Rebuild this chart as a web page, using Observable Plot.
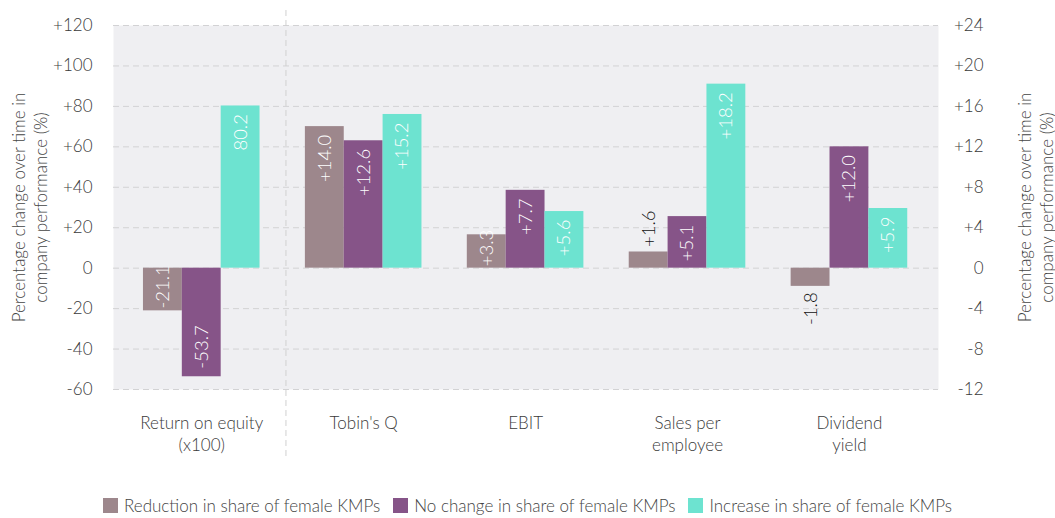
<!DOCTYPE html>
<html>
<head>
<meta charset="utf-8">
<script src="https://cdn.jsdelivr.net/npm/d3@7"></script>
<script src="https://cdn.jsdelivr.net/npm/@observablehq/plot@0.6"></script>
<style>
  body { margin: 0; background: #fff; font-family: Lato, "Noto Sans", sans-serif; }
  #legend { display: flex; justify-content: center; align-items: center; gap: 13px; margin-top: 25px; font-size: 17px; color: #444; font-weight: 300; }
  #legend .item { display: flex; align-items: center; gap: 6px; }
  #legend .sw { width: 15px; height: 15px; display: inline-block; }
</style>
</head>
<body>
<div id="chart"></div>
<div id="legend"></div>
<script>
// ---- data ----
const categories = ["Return on equity\n(x100)", "Tobin's Q", "EBIT", "Sales per\nemployee", "Dividend\nyield"];
const axisFactor = [1, 5, 5, 5, 5]; // ROE on left axis, others on right axis (1:5)
const series = ["Reduction in share of female KMPs", "No change in share of female KMPs", "Increase in share of female KMPs"];
const colors = ["#9d878c", "#865488", "#6de3d0"];
const reduction = [-21.1, 14.0, 3.3, 1.6, -1.8];
const noChange = [-53.7, 12.6, 7.7, 5.1, 12.0];
const increase = [80.2, 15.2, 5.6, 18.2, 5.9];
const reductionLabels = ["-21.1", "+14.0", "+3.3", "+1.6", "-1.8"];
const noChangeLabels = ["-53.7", "+12.6", "+7.7", "+5.1", "+12.0"];
const increaseLabels = ["80.2", "+15.2", "+5.6", "+18.2", "+5.9"];
const leftTicks = [-60, -40, -20, 0, 20, 40, 60, 80, 100, 120];
const leftAxisLabel = "Percentage change over time in\ncompany performance (%)";
const rightAxisLabel = "Percentage change over time in\ncompany performance (%)";
const separatorAt = [0.52];

// ---- table ----
const barW = 0.24;
const valueSets = [reduction, noChange, increase];
const labelSets = [reductionLabels, noChangeLabels, increaseLabels];
const rows = [];
categories.forEach((c, i) => {
  series.forEach((s, j) => {
    const v = valueSets[j][i] * axisFactor[i];
    rows.push({
      i, j, series: s, v,
      x1: i + (j - 1.5) * barW,
      x2: i + (j - 0.5) * barW,
      xc: i + (j - 1) * barW,
      label: labelSets[j][i]
    });
  });
});
const inside = rows.filter(d => Math.abs(d.v) >= 12);
const insidePos = inside.filter(d => d.v > 0).map(d => ({...d, ly: Math.max(d.v - 4, 19)}));
const insideNeg = inside.filter(d => d.v < 0).map(d => ({...d, ly: -Math.max(-d.v - 4, 20)}));
const outside = rows.filter(d => Math.abs(d.v) < 12);
const outsidePos = outside.filter(d => d.v > 0);
const outsideNeg = outside.filter(d => d.v < 0);

const fmt = d => d > 0 ? "+" + d : String(d);
const textColor = "#3a3a3a";

const chart = Plot.plot({
  width: 1055,
  height: 470,
  marginTop: 25,
  marginBottom: 81,
  marginLeft: 113,
  marginRight: 117,
  style: { fontFamily: "Lato, 'Noto Sans', sans-serif", fontSize: "17px", color: textColor, fontWeight: 300, background: "transparent" },
  x: { type: "linear", domain: [-0.545, 4.55], axis: null },
  y: { domain: [-60, 120], axis: null },
  color: { domain: series, range: colors },
  marks: [
    Plot.frame({ fill: "#efeff2", stroke: "none" }),
    Plot.ruleY(leftTicks, { stroke: "#d2d2d4", strokeDasharray: "6,4", strokeWidth: 1 }),
    Plot.ruleX(separatorAt, { stroke: "#d0d0d0", strokeDasharray: "6,4", insetTop: -15, insetBottom: -69 }),
    Plot.rectY(rows, { x1: "x1", x2: "x2", y1: 0, y2: "v", fill: "series" }),
    Plot.text(insidePos, { x: "xc", y: "ly", text: "label", rotate: -90, textAnchor: "end", fill: "white", fontSize: 18.5 }),
    Plot.text(insideNeg, { x: "xc", y: "ly", text: "label", rotate: -90, textAnchor: "start", fill: "white", fontSize: 18.5 }),
    Plot.text(outsidePos, { x: "xc", y: "v", text: "label", rotate: -90, textAnchor: "start", dy: -5, fill: "#111", fontSize: 18.5 }),
    Plot.text(outsideNeg, { x: "xc", y: "v", text: "label", rotate: -90, textAnchor: "end", dy: 6, fill: "#111", fontSize: 18.5 }),
    Plot.axisY({ anchor: "left", ticks: leftTicks, tickFormat: fmt, tickSize: 0, tickPadding: 21, label: null, fontSize: 17 }),
    Plot.axisY({ anchor: "right", ticks: leftTicks, tickFormat: d => fmt(d / 5), tickSize: 0, tickPadding: 45, textAnchor: "end", label: null, fontSize: 17 }),
    Plot.axisX({ ticks: [0, 1, 2, 3, 4], tickFormat: i => categories[i], tickSize: 0, tickPadding: 24, lineHeight: 1.3, label: null, fontSize: 17 }),
    Plot.text([leftAxisLabel], { frameAnchor: "left", textAnchor: "middle", rotate: -90, dx: -85, lineHeight: 1.3, fontSize: 17, fill: "#444" }),
    Plot.text([rightAxisLabel], { frameAnchor: "right", textAnchor: "middle", rotate: -90, dx: 96, lineHeight: 1.3, fontSize: 17, fill: "#444" })
  ]
});
document.getElementById("chart").appendChild(chart);

const legend = document.getElementById("legend");
series.forEach((s, j) => {
  const item = document.createElement("div");
  item.className = "item";
  const sw = document.createElement("span");
  sw.className = "sw";
  sw.style.background = colors[j];
  const t = document.createElement("span");
  t.textContent = s;
  item.appendChild(sw);
  item.appendChild(t);
  legend.appendChild(item);
});
</script>
</body>
</html>
